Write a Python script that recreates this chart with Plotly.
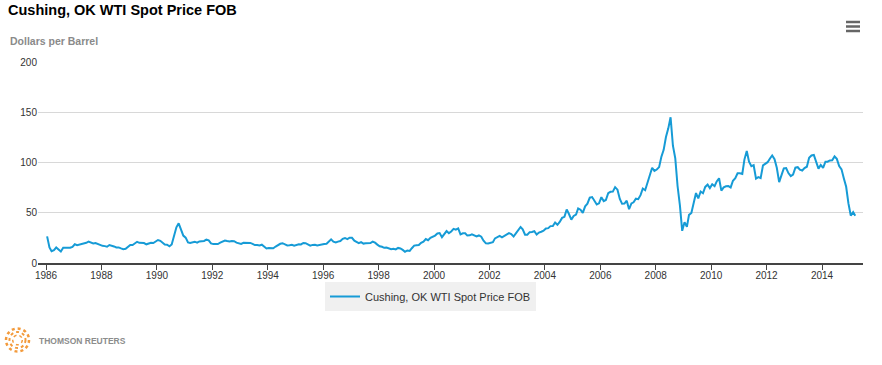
import plotly.graph_objects as go
import pandas as pd

title_text = "Cushing, OK WTI Spot Price FOB"
y_label = "Dollars per Barrel"
series_name = "Cushing, OK WTI Spot Price FOB"
logo_text = "THOMSON REUTERS"
first_month = "1986-01-01"

# Monthly WTI spot prices (USD/bbl), Jan 1986 - Mar 2015
p1986 = [26.5, 15.5, 11.8, 12.8, 15.4, 13.4, 11.4, 15.1, 14.9, 14.9, 15.2, 16.1]
p1987 = [18.7, 17.8, 18.3, 18.7, 19.4, 20.1, 21.3, 20.3, 19.5, 19.9, 18.9, 17.3]
p1988 = [17.1, 16.8, 16.2, 17.9, 17.4, 16.5, 15.5, 15.5, 14.5, 13.8, 14.1, 16.4]
p1989 = [18.0, 17.9, 19.5, 21.1, 20.1, 20.1, 19.8, 18.6, 19.6, 20.1, 19.9, 21.1]
p1990 = [22.9, 22.1, 20.4, 18.4, 18.2, 16.7, 18.5, 27.3, 35.5, 39.5, 32.3, 27.3]
p1991 = [25.2, 20.5, 19.9, 20.8, 21.2, 20.2, 21.4, 21.7, 21.9, 23.2, 22.5, 19.5]
p1992 = [18.8, 19.0, 18.9, 20.2, 21.0, 22.4, 21.8, 21.3, 21.9, 21.7, 20.3, 19.4]
p1993 = [19.0, 20.1, 20.3, 20.3, 20.0, 19.1, 17.9, 18.0, 17.5, 18.2, 16.6, 14.5]
p1994 = [15.0, 14.8, 14.7, 16.4, 17.9, 19.1, 19.7, 18.4, 17.5, 17.7, 18.1, 17.2]
p1995 = [18.0, 18.6, 18.5, 19.9, 19.7, 18.5, 17.3, 18.0, 18.2, 17.4, 18.0, 19.0]
p1996 = [18.9, 19.1, 21.3, 23.5, 21.2, 20.4, 21.3, 21.9, 24.0, 24.9, 23.7, 25.2]
p1997 = [25.1, 22.2, 21.0, 19.7, 20.8, 19.3, 19.7, 20.0, 19.8, 21.3, 20.2, 18.3]
p1998 = [16.7, 16.1, 15.1, 15.4, 14.9, 13.7, 14.2, 13.5, 15.0, 14.5, 13.0, 11.2]
p1999 = [12.5, 12.0, 14.7, 17.3, 17.7, 17.9, 20.1, 21.3, 23.8, 22.7, 25.0, 26.1]
p2000 = [27.3, 29.4, 29.8, 25.7, 28.8, 31.8, 29.7, 31.3, 33.9, 33.1, 34.4, 28.4]
p2001 = [29.6, 29.6, 27.3, 27.5, 28.6, 27.6, 26.4, 27.4, 26.2, 22.2, 19.6, 19.4]
p2002 = [19.7, 20.7, 24.5, 26.2, 27.0, 25.5, 27.0, 28.4, 29.7, 28.8, 26.4, 29.5]
p2003 = [33.0, 35.8, 33.5, 28.2, 28.1, 30.7, 30.8, 31.6, 28.3, 30.3, 31.1, 32.1]
p2004 = [34.3, 34.7, 36.7, 36.8, 40.3, 38.0, 40.8, 44.9, 45.9, 53.3, 48.5, 43.2]
p2005 = [46.8, 48.2, 54.2, 53.0, 49.8, 56.4, 59.0, 65.0, 65.6, 62.3, 58.3, 59.4]
p2006 = [65.5, 61.6, 62.7, 69.4, 70.8, 71.0, 75.5, 73.0, 63.8, 58.9, 59.1, 62.0]
p2007 = [53.5, 59.3, 60.4, 64.0, 63.5, 67.5, 74.1, 72.4, 79.9, 85.8, 94.8, 91.7]
p2008 = [93.0, 95.4, 105.5, 112.6, 125.4, 134.0, 145.0, 116.7, 104.1, 76.6, 57.3, 32.0]
p2009 = [40.5, 36.0, 47.9, 49.7, 59.0, 69.6, 64.2, 71.1, 69.4, 75.7, 78.0, 74.5]
p2010 = [78.3, 76.4, 81.2, 84.3, 72.0, 75.3, 76.3, 76.6, 75.2, 81.9, 84.3, 89.2]
p2011 = [89.2, 88.6, 102.9, 111.5, 100.9, 96.3, 97.3, 84.0, 85.5, 84.5, 97.2, 98.6]
p2012 = [100.3, 104.0, 107.0, 103.3, 94.7, 80.5, 87.9, 94.1, 94.5, 89.5, 86.5, 87.9]
p2013 = [94.8, 95.3, 92.9, 92.0, 94.5, 95.8, 104.7, 107.0, 107.5, 100.5, 93.9, 97.6]
p2014 = [94.6, 100.8, 100.8, 102.1, 102.2, 106.0, 103.6, 96.5, 93.2, 84.4, 75.8, 59.3]
p2015 = [47.2, 50.6, 47.0]

prices = (p1986 + p1987 + p1988 + p1989 + p1990 + p1991 + p1992 + p1993 + p1994
          + p1995 + p1996 + p1997 + p1998 + p1999 + p2000 + p2001 + p2002 + p2003
          + p2004 + p2005 + p2006 + p2007 + p2008 + p2009 + p2010 + p2011 + p2012
          + p2013 + p2014 + p2015)
dates = pd.date_range(first_month, periods=len(prices), freq="MS") + pd.Timedelta(days=14)

y_ticks = [0, 50, 100, 150, 200]

W, H = 882, 365
ML, MR, MT, MB = 38, 19, 62, 102
PW, PH = W - ML - MR, H - MT - MB


def px(x):
    return (x - ML) / PW


def py(y):
    return (H - MB - y) / PH


FONT = "Arial, 'Liberation Sans', sans-serif"

fig = go.Figure()
fig.add_trace(go.Scatter(
    x=dates, y=prices, mode="lines", name=series_name,
    line=dict(color="#169bd6", width=2),
    showlegend=True,
))

shapes = []
# menu icon
for yy in (22, 26.5, 31):
    shapes.append(dict(type="line", xref="paper", yref="paper",
                       x0=px(846), x1=px(860), y0=py(yy), y1=py(yy),
                       line=dict(color="#666666", width=2.5)))
# logo rings
cx, cy = 17.5, 340
for r, w in ((11.5, 2.5), (8, 2), (4.8, 1.5)):
    shapes.append(dict(type="circle", xref="paper", yref="paper",
                       x0=px(cx - r), x1=px(cx + r), y0=py(cy + r), y1=py(cy - r),
                       line=dict(color="#f39a3b", width=w, dash="dot")))

fig.update_layout(
    width=W, height=H, autosize=False,
    margin=dict(l=ML, r=MR, t=MT, b=MB),
    paper_bgcolor="white", plot_bgcolor="white",
    font=dict(family=FONT, color="#333333"),
    title=dict(text=title_text, x=8 / W, xanchor="left", xref="container",
               y=1 - 10 / H, yanchor="middle", yref="container",
               font=dict(size=14.5, color="#000000", family=FONT, weight="bold")),
    xaxis=dict(type="date", range=["1985-09-17", "2015-06-25"],
               tick0="1986-01-01", dtick="M24", tickformat="%Y",
               ticks="outside", ticklen=5, tickwidth=1, tickcolor="#444444",
               showline=True, linecolor="#444444", linewidth=1.5,
               showgrid=False, zeroline=False,
               tickfont=dict(size=10, color="#333333", family=FONT),
               ticklabelstandoff=-3),
    yaxis=dict(range=[0, 200], tickvals=y_ticks, showgrid=True,
               gridcolor="#d8d8d8", gridwidth=1, zeroline=False, showline=False,
               tickfont=dict(size=10, color="#333333", family=FONT)),
    legend=dict(orientation="h", x=px(325), xanchor="left",
                y=py(282), yanchor="top", bgcolor="#f0f0f0",
                font=dict(size=11, color="#333333", family=FONT)),
    shapes=shapes,
    annotations=[
        dict(text=y_label, xref="paper", yref="paper", x=px(8), y=py(41),
             xanchor="left", yanchor="middle", showarrow=False,
             font=dict(size=10.5, color="#8a8a8a", family=FONT, weight="bold")),
        dict(text=logo_text, xref="paper", yref="paper", x=px(37), y=py(341),
             xanchor="left", yanchor="middle", showarrow=False,
             font=dict(size=8.5, color="#8c8c8c", family=FONT, weight="bold")),
    ],
)

fig.write_html("out.html", config={"displayModeBar": False},
               post_script="document.body.style.margin='0';document.body.style.overflow='hidden';")
